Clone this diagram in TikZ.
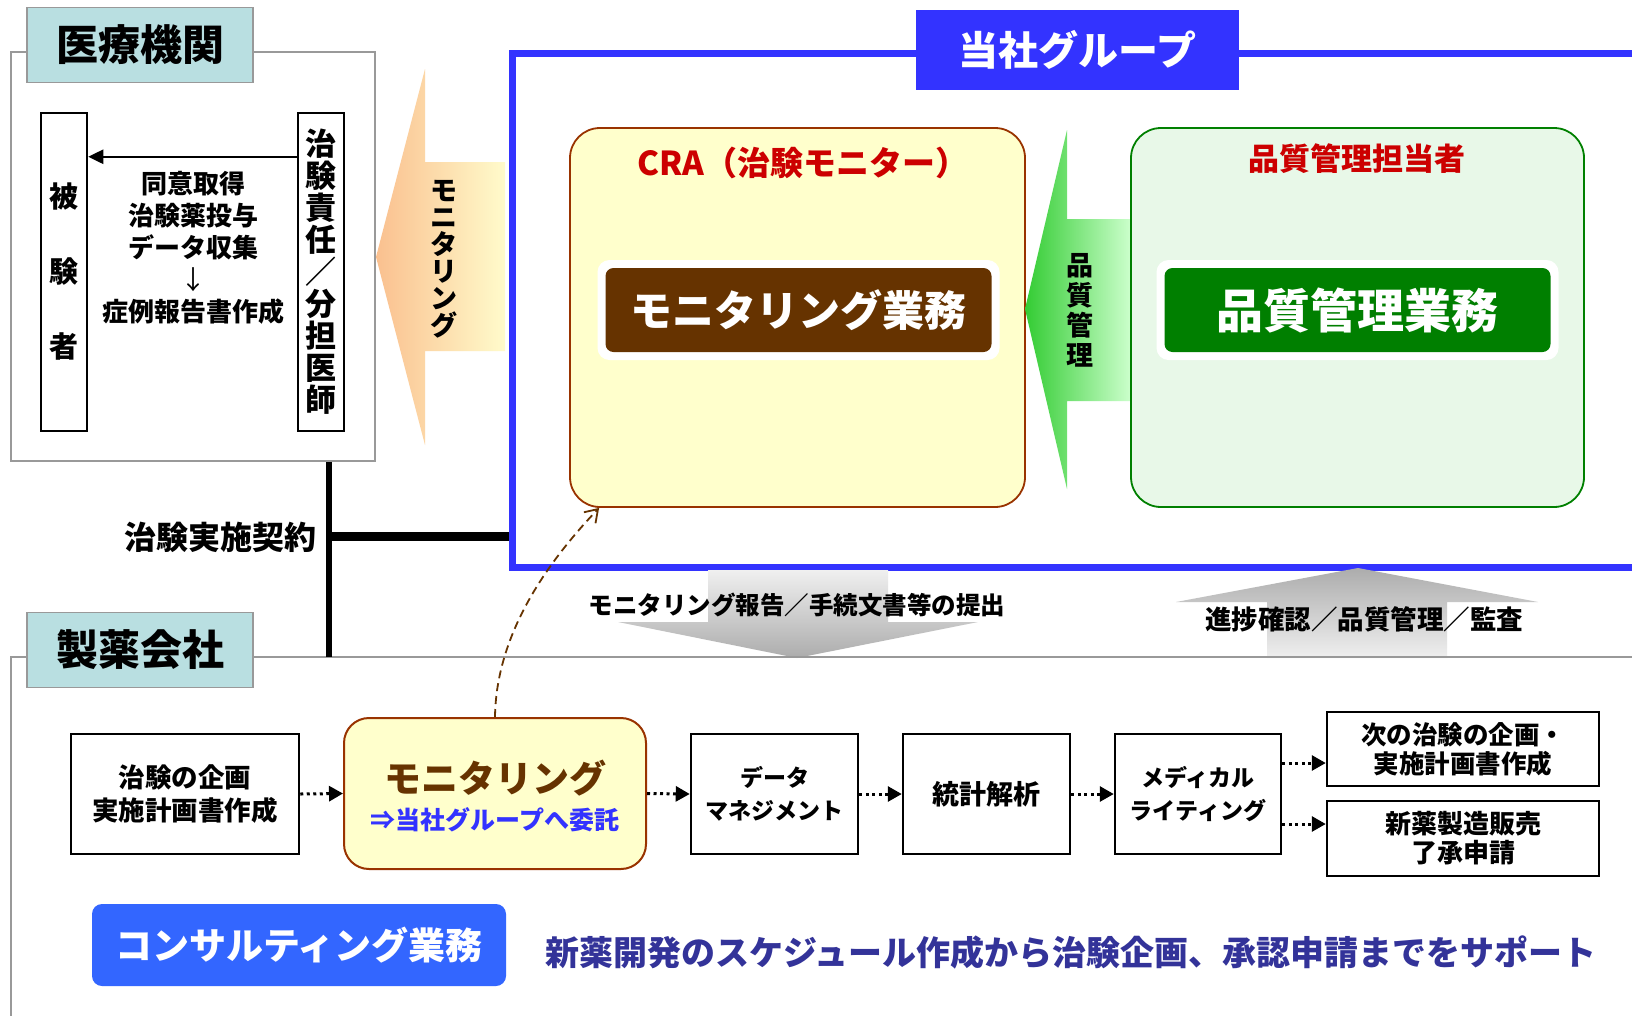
\documentclass[tikz,border=0pt]{standalone}
\usepackage{fontspec}
\setmainfont{Noto Sans CJK JP}[BoldFont={Noto Sans CJK JP Black}]
\usetikzlibrary{arrows.meta,calc}
\newcommand{\jfs}[2]{\fontsize{#1}{#2}\selectfont\bfseries}
\definecolor{blueG}{HTML}{3333FF}
\definecolor{labelbg}{HTML}{B9DFE1}
\definecolor{craFill}{HTML}{FFFFCC}
\definecolor{craLine}{HTML}{993300}
\definecolor{brownBand}{HTML}{663300}
\definecolor{greenFill}{HTML}{E8F8E8}
\definecolor{greenLine}{HTML}{008000}
\definecolor{greenBand}{HTML}{007F00}
\definecolor{redT}{HTML}{CC0000}
\definecolor{consult}{HTML}{3366FF}
\definecolor{navyT}{HTML}{333399}
\definecolor{frameGray}{HTML}{999999}
\definecolor{orangeL}{HTML}{FAC08F}
\definecolor{yellowL}{HTML}{FFFBCB}
\definecolor{greenL}{HTML}{33CC33}
\definecolor{greenR}{HTML}{CCFFCC}
\begin{document}
\begin{tikzpicture}[x=1pt,y=-1pt,
  lbl/.style={draw=frameGray,line width=1.5pt,fill=labelbg,minimum width=226pt,minimum height=75pt,inner sep=0pt,font=\jfs{42}{48}},
  pbox/.style={draw=black,line width=2.5pt,inner sep=0pt,align=center},
  flowbox/.style={draw=black,line width=2.5pt,inner sep=0pt,align=center,minimum height=120pt,font=\jfs{23}{33}},
  flowarr/.style={line width=3pt,dash pattern=on 3pt off 3.5pt,-{Triangle[length=14pt,width=15pt]}},
  halo/.style={fill=white,rounded corners=12pt,minimum width=402pt,minimum height=100pt,inner sep=0pt},
  band/.style={rounded corners=8pt,minimum width=386pt,minimum height=84pt,inner sep=0pt,text=white},
  vtext/.style={align=center,inner sep=0pt}
]
\useasboundingbox (0,0) rectangle (1632,1015);
\fill[white] (0,0) rectangle (1632,1015);

% ---------- 医療機関 ----------
\node[draw=frameGray,line width=1.5pt,minimum width=364pt,minimum height=409pt,inner sep=0pt] (hosp) at (193,256.5) {};
\node[lbl] (hospL) at (140,45) {医療機関};
\node[pbox,minimum width=46pt,minimum height=318pt,font=\jfs{29}{75}] (subj) at (64,272) {被\\験\\者};
\node[pbox,minimum width=46pt,minimum height=318pt,font=\jfs{31}{32}] (doc) at (321,272) {治\\験\\責\\任\\／\\分\\担\\医\\師};
\coordinate (arrS) at ($(doc.north west)+(0,45)$);
\draw[line width=2.5pt,-{Triangle[length=15pt,width=14pt]}] (arrS) -- (subj.east |- arrS);
\node[align=center,inner sep=0pt,font=\jfs{26}{32}] (tasks) at (193,248) {同意取得\\治験薬投与\\データ収集\\{\mdseries ↓}\\症例報告書作成};

% orange monitoring arrow
\path[left color=orangeL,right color=yellowL] (376,257) -- (425,69) -- (425,162) -- (505,162) -- (505,351) -- (425,351) -- (425,445) -- cycle;
\node[vtext,font=\jfs{27}{27}] (monV) at (444,259) {モ\\ニ\\タ\\リ\\ン\\グ};

% ---------- 当社グループ ----------
\node[draw=blueG,line width=7pt,minimum width=1133pt,minimum height=514pt,inner sep=0pt] (grp) at (1078.5,310) {};
\node[fill=blueG,minimum width=323pt,minimum height=80pt,inner sep=0pt,text=white,font=\jfs{40}{44}] (grpL) at (1077.5,50) {当社グループ};

% CRA box
\node[draw=craLine,line width=1.8pt,fill=craFill,rounded corners=30pt,minimum width=455pt,minimum height=379pt,inner sep=0pt] (cra) at (797.5,317.5) {};
\node[text=redT,font=\jfs{33}{38},inner sep=0pt] (craT) at (803,163) {CRA（治験モニター）};
\node[halo] (monH) at (798.5,310) {};
\node[band,fill=brownBand,font=\jfs{42}{50}] (monB) at (798.5,310) {モニタリング業務};

% green arrow
\path[left color=greenL,right color=greenR] (1025,309) -- (1067,130) -- (1067,219) -- (1131,219) -- (1131,401) -- (1067,401) -- (1067,489) -- cycle;
\node[vtext,font=\jfs{27}{30}] (qcV) at (1080,310) {品\\質\\管\\理};

% QC box
\node[draw=greenLine,line width=1.8pt,fill=greenFill,rounded corners=30pt,minimum width=453pt,minimum height=379pt,inner sep=0pt] (qc) at (1357.5,317.5) {};
\node[text=redT,font=\jfs{31}{36},inner sep=0pt] (qcT) at (1357,159) {品質管理担当者};
\node[halo] (qcH) at (1357.5,310) {};
\node[band,fill=greenBand,font=\jfs{47}{54}] (qcB) at (1357.5,310) {品質管理業務};

% ---------- gray arrows ----------
\path[top color=gray!12,bottom color=gray!65] (708,570) -- (888,570) -- (888,622) -- (978,622) -- (797,658) -- (618,622) -- (708,622) -- cycle;
\path[top color=gray!65,bottom color=gray!12] (1358,568) -- (1538,602) -- (1447,602) -- (1447,658) -- (1267,658) -- (1267,602) -- (1176,602) -- cycle;
\node[font=\jfs{24.5}{28},inner sep=0pt] (repT) at (797,605) {モニタリング報告／手続文書等の提出};
\node[font=\jfs{26.5}{30},inner sep=0pt] (chkT) at (1364,619) {進捗確認／品質管理／監査};

% ---------- 製薬会社 ----------
\coordinate (phTL) at (11,657);
\draw[frameGray,line width=1.5pt] (11,1020) -- (phTL) -- (1640,657);
\node[lbl] (phL) at (140,650) {製薬会社};

% contract lines
\coordinate (cj) at (329,536);
\draw[line width=6pt] (hosp.south -| cj) -- (cj |- phTL);
\draw[line width=9pt] (cj) -- (grp.west |- cj);
\node[anchor=east,font=\jfs{32}{36},inner sep=0pt] (ctT) at (317,537) {治験実施契約};

% ---------- flow ----------
\node[flowbox,minimum width=228pt,font=\jfs{26.5}{33}] (f1) at (185,794) {治験の企画\\実施計画書作成};
\node[draw=craLine,line width=2pt,fill=craFill,rounded corners=25pt,minimum width=302pt,minimum height=151pt,inner sep=0pt] (f2) at (495,793.5) {};
\node[text=brownBand,font=\jfs{37}{42},inner sep=0pt] (f2a) at (495,778) {モニタリング};
\node[text=blueG,font=\jfs{25}{28},inner sep=0pt] (f2b) at (495,820) {⇒当社グループへ委託};
\node[flowbox,minimum width=167pt] (f3) at (774.5,794) {データ\\マネジメント};
\node[flowbox,minimum width=167pt,font=\jfs{27}{33}] (f4) at (986.5,794) {統計解析};
\node[flowbox,minimum width=166pt] (f5) at (1198,794) {メディカル\\ライティング};
\node[flowbox,minimum width=272pt,minimum height=74pt,font=\jfs{25.5}{29}] (f6) at (1463,749) {次の治験の企画・\\実施計画書作成};
\node[flowbox,minimum width=272pt,minimum height=75pt,font=\jfs{26}{29}] (f7) at (1463,838.5) {新薬製造販売\\了承申請};

\draw[flowarr] (f1.east) -- (f2.west);
\draw[flowarr] (f2.east) -- (f3.west);
\draw[flowarr] (f3.east) -- (f4.west);
\draw[flowarr] (f4.east) -- (f5.west);
\coordinate (a6) at ($(f5.east)+(0,-31)$);
\coordinate (a7) at ($(f5.east)+(0,30)$);
\draw[flowarr] (a6) -- (a6 -| f6.west);
\draw[flowarr] (a7) -- (a7 -| f7.west);

% dashed delegation arrow
\draw[brownBand,line width=1.8pt,dash pattern=on 8pt off 5pt,-{Straight Barb[length=12pt,width=16pt]}] (f2.north) .. controls (496,640) and (540,570) .. ($(cra.south west)+(30,0)$);

% ---------- consulting ----------
\node[fill=consult,rounded corners=10pt,minimum width=414pt,minimum height=82pt,inner sep=0pt,text=white,font=\jfs{37}{42}] (cons) at (299,945) {コンサルティング業務};
\node[anchor=west,text=navyT,font=\jfs{34}{38},inner sep=0pt] (consT) at (545,952) {新薬開発のスケジュール作成から治験企画、承認申請までをサポート};
\end{tikzpicture}
\end{document}
